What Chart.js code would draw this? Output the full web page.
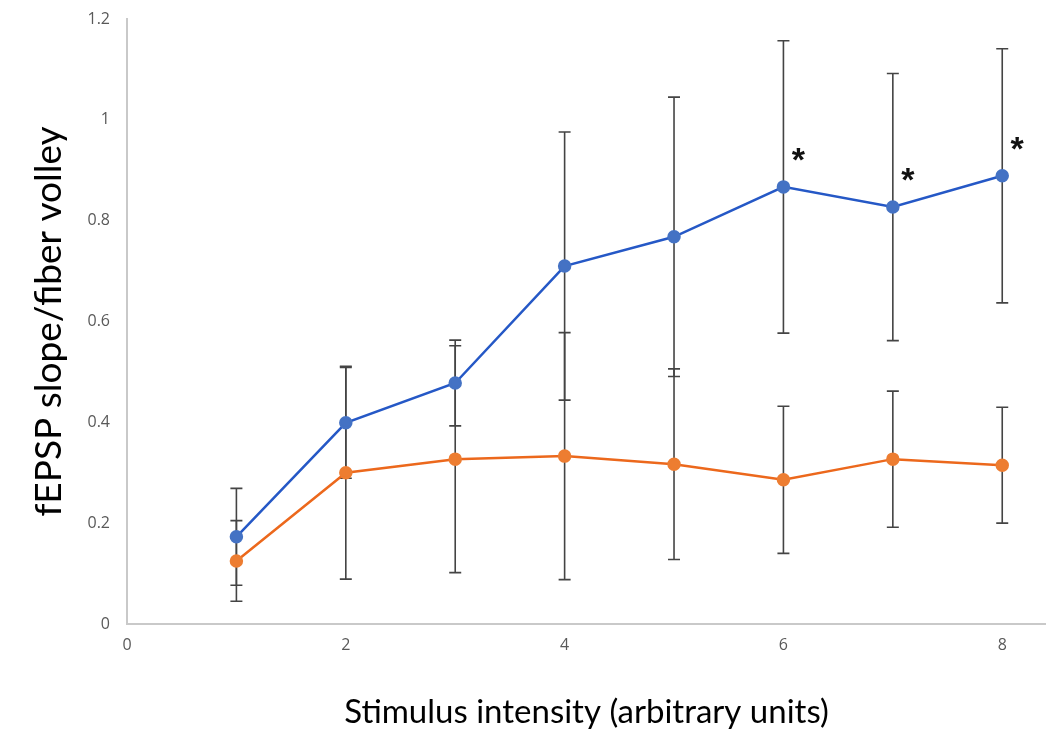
<!DOCTYPE html>
<html>
<head>
<meta charset="utf-8">
<script src="https://cdn.jsdelivr.net/npm/chart.js@4"></script>
<style>
  html, body { margin: 0; padding: 0; background: #fff; overflow: hidden; }
</style>
</head>
<body>
<canvas id="myChart" width="1046" height="731"></canvas>
<script>
// stimulus intensities
const intensity = [1, 2, 3, 4, 5, 6, 7, 8]

// mean fEPSP slope / fiber volley
const blueMean = [0.173, 0.399, 0.478, 0.710, 0.768, 0.867, 0.827, 0.889]
const orangeMean = [0.125, 0.300, 0.327, 0.333, 0.317, 0.286, 0.327, 0.315]

// error bar half-lengths
const blueErr = [0.096, 0.110, 0.085, 0.266, 0.277, 0.290, 0.265, 0.252]
const orangeErr = [0.080, 0.211, 0.225, 0.245, 0.189, 0.146, 0.135, 0.115]

// points marked significant (index into intensity)
const starred = [5, 6, 7]

const yTicks = [0, 0.2, 0.4, 0.6, 0.8, 1, 1.2]
const xTicks = [0, 2, 4, 6, 8]

const errs = [blueErr, orangeErr]

const errorBars = {
  id: "errorBars",
  beforeDatasetsDraw(chart) {
    const ctx = chart.ctx
    const y = chart.scales.y
    ctx.save()
    ctx.strokeStyle = "#444"
    ctx.lineWidth = 1.6
    chart.data.datasets.forEach((ds, i) => {
      const meta = chart.getDatasetMeta(i)
      meta.data.forEach((pt, j) => {
        const v = ds.data[j].y
        const top = y.getPixelForValue(v + errs[i][j])
        const bot = y.getPixelForValue(v - errs[i][j])
        ctx.beginPath()
        ctx.moveTo(pt.x, top); ctx.lineTo(pt.x, bot)
        ctx.moveTo(pt.x - 6, top); ctx.lineTo(pt.x + 6, top)
        ctx.moveTo(pt.x - 6, bot); ctx.lineTo(pt.x + 6, bot)
        ctx.stroke()
      })
    })
    ctx.restore()
  },
  afterDatasetsDraw(chart) {
    const ctx = chart.ctx
    const meta = chart.getDatasetMeta(0)
    ctx.save()
    ctx.fillStyle = "#111"
    ctx.font = "bold 34px 'Liberation Sans'"
    ctx.textAlign = "center"
    ctx.textBaseline = "alphabetic"
    starred.forEach(j => {
      const pt = meta.data[j]
      ctx.fillText("*", pt.x + 15, pt.y - 16)
    })
    ctx.restore()
  }
}

const ctx = document.getElementById("myChart")
new Chart(ctx, {
  type: "line",
  data: {
    datasets: [{
      label: "Series 1",
      data: intensity.map((x, i) => ({ x: x, y: blueMean[i] })),
      borderColor: "#2558c6",
      backgroundColor: "#4472c4",
      pointBackgroundColor: "#4472c4",
      pointBorderColor: "#4472c4",
      borderWidth: 2.5,
      pointRadius: 5.5,
      tension: 0
    }, {
      label: "Series 2",
      data: intensity.map((x, i) => ({ x: x, y: orangeMean[i] })),
      borderColor: "#ec681c",
      backgroundColor: "#ed7d31",
      pointBackgroundColor: "#ed7d31",
      pointBorderColor: "#ed7d31",
      borderWidth: 2.5,
      pointRadius: 5.5,
      tension: 0
    }]
  },
  options: {
    responsive: false,
    animation: false,
    layout: { autoPadding: false, padding: { top: 19, right: 0, left: 0, bottom: 0 } },
    plugins: { legend: { display: false }, tooltip: { enabled: false } },
    scales: {
      x: {
        type: "linear",
        min: 0,
        max: 8.4,
        afterBuildTicks: axis => { axis.ticks = xTicks.map(v => ({ value: v })) },
        afterFit: axis => { axis.height = 107 },
        grid: { display: false, drawTicks: false },
        border: { display: true, color: "#c9c9c9", width: 2 },
        ticks: { padding: 12, color: "#595959", font: { family: "Open Sans", size: 16 } },
        title: {
          display: true,
          text: "Stimulus intensity (arbitrary units)",
          color: "#000",
          font: { family: "Lato", size: 33, lineHeight: 1.1 },
          padding: { top: 0, bottom: 0 }
        }
      },
      y: {
        min: 0,
        max: 1.2,
        afterBuildTicks: axis => { axis.ticks = yTicks.map(v => ({ value: v })) },
        afterFit: axis => {
          axis.width = 127
          axis.paddingTop = 0
          axis.paddingBottom = 0
        },
        grid: { display: false, drawTicks: false },
        border: { display: true, color: "#c9c9c9", width: 2 },
        ticks: {
          padding: 17,
          color: "#595959",
          font: { family: "Open Sans", size: 16 },
          callback: v => String(v)
        },
        title: {
          display: true,
          text: "fEPSP slope/fiber volley",
          color: "#000",
          font: { family: "Lato", size: 37, lineHeight: 1.2 },
          padding: { top: 27, bottom: 0 }
        }
      }
    }
  },
  plugins: [errorBars]
})
</script>
</body>
</html>
